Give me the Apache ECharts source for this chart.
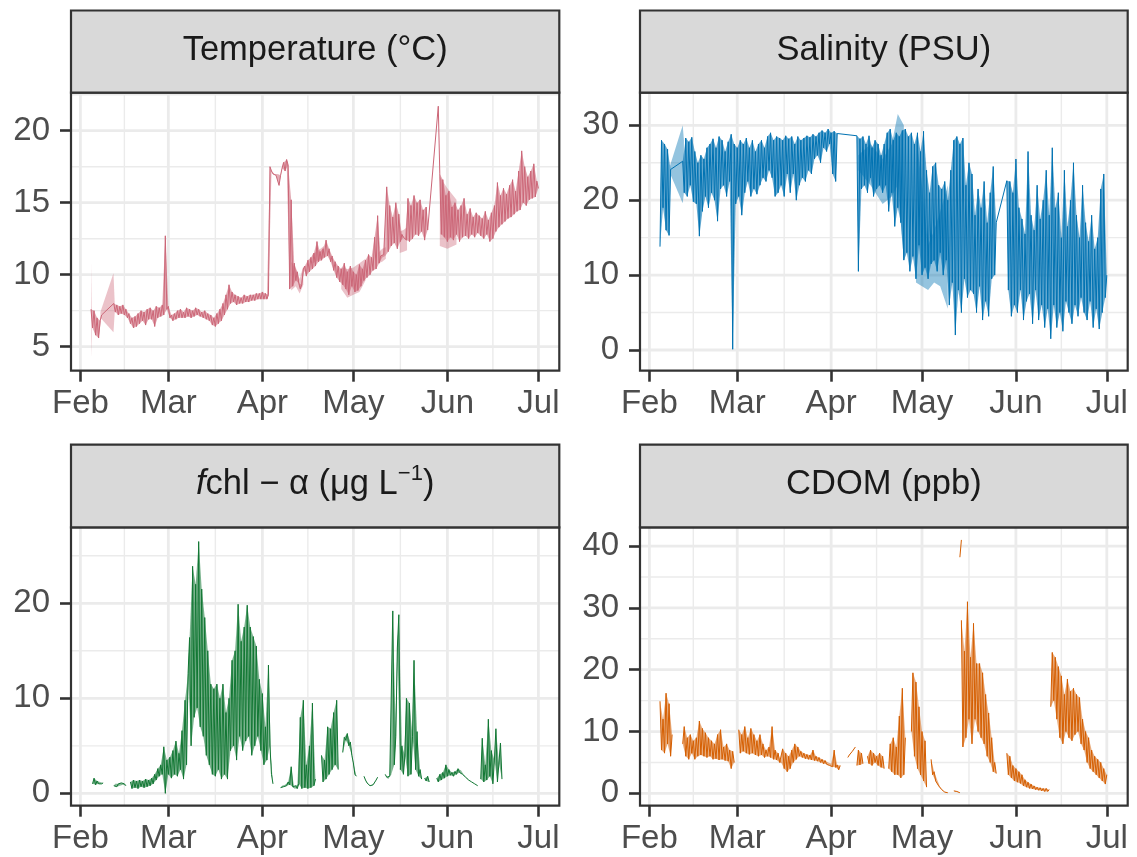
<!DOCTYPE html>
<html>
<head>
<meta charset="utf-8">
<script src="https://cdn.jsdelivr.net/npm/echarts@6/dist/echarts.min.js"></script>
<style>
  html, body { margin: 0; padding: 0; background: #ffffff; }
  #chart { width: 1137px; height: 857px; }
</style>
</head>
<body>
<div id="chart"></div>
<script>
// Time is counted in days since 1 Feb 2020; readings are every half day.
const STEP = 0.5;
const monthDays = [0, 29, 60, 90, 121, 151];
const monthNames = ['Feb', 'Mar', 'Apr', 'May', 'Jun', 'Jul'];
const midMonthDays = [14.5, 44.5, 75, 105.5, 136];

// Each run is [first day, readings]; consecutive runs are joined by a line,
// a null marks a gap in the record.
const temperature = [
  [3.5, [7.6, 6.3, 7.5, 5.8, 7.0, 5.6, 6.8, 7.2]],
  [11, [8.0, 7.4, 7.9, 7.2, 7.8, 7.3, 7.9, 7.2, 7.6, 7.0]],
  [16, [7.3, 6.6, 7.0, 6.3, 7.1, 6.4, 7.3, 6.6]],
  [20, [7.5, 6.8, 7.4, 6.5, 7.6, 6.9, 7.7, 6.9, 7.5, 6.4, 7.8, 7.0, 7.7, 7.1, 7.9, 7.2]],
  [28, [12.7, 7.6]],
  [29, [7.8, 7.0, 7.2, 6.8, 7.3, 6.9, 7.5, 7.0, 7.6, 7.0, 7.4, 7.0]],
  [35, [7.7, 7.1, 7.6, 7.0, 7.5, 7.1, 7.7, 7.2, 7.6, 7.1, 7.4, 7.0, 7.5, 6.9, 7.3, 6.8]],
  [43, [7.2, 6.5, 7.0, 6.4, 7.3, 6.6, 7.6, 6.8, 8.0, 7.2]],
  [48, [8.6, 7.6, 9.3, 8.0, 8.8, 8.1]],
  [51, [8.6, 7.9, 8.5, 8.0, 8.4, 8.0, 8.6, 8.1, 8.5, 8.1, 8.6, 8.2, 8.6, 8.2, 8.7, 8.3, 8.7, 8.3, 8.8, 8.3, 8.7, 8.3]],
  [62, [8.6, 17.5, 17.2, 17.0, 17.0, 16.9, 17.0, 16.2, 16.9, 17.4, 17.8, 17.2, 18.0, 17.6]],
  [69, [9.0, 15.2, 9.2, 10.8, 9.6, 10.2, 9.4, 9.0, 9.3, 10.4]],
  [74, [10.6, 9.9, 11.0, 10.2, 11.2, 10.4, 11.5, 10.6, 12.3, 10.9, 11.6, 11.0, 11.8, 11.2, 12.4, 11.3]],
  [82, [11.8, 10.9, 11.3, 10.3, 10.9, 9.8, 10.6, 9.5, 10.4, 9.3]],
  [87, [10.8, 9.0, 10.2, 8.6, 10.6, 9.2, 10.2, 8.8, 10.0, 8.9, 10.7, 9.2, 10.4, 9.6]],
  [94, [11.0, 9.8, 11.4, 10.0, 11.2, 10.3, 12.6, 10.4, 14.1, 10.8, 11.3, 11.2, 11.4, 11.3, 16.1, 11.6]],
  [102, [14.8, 12.0, 14.0, 12.2, 15.0, 11.8, 14.2, 12.3, 12.8, 12.6, 12.5, 12.4]],
  [108, [15.3, 12.3, 14.8, 12.5, 15.5, 12.8, 15.0, 12.7, 15.2, 13.0, 14.5, 12.4, 14.7, 13.1]],
  [118, [21.7, 17.0, 12.8, 16.6, 12.6, 15.5, 12.3, 15.8, 12.6, 14.7, 12.4, 15.0, 12.8, 14.5, 12.3, 14.8, 12.6, 15.3,
         12.7, 14.2, 12.5, 14.6, 12.8, 14.0, 12.6, 14.3, 12.9, 14.1, 12.7, 13.9, 12.5, 14.4, 12.8, 13.8, 12.3, 14.3, 12.5]],
  [136.5, [14.8, 13.0, 16.4, 13.3, 15.5, 13.5, 16.0, 13.7, 15.6, 13.9, 16.2, 14.0, 16.6, 14.2, 15.8, 14.4, 17.2, 14.5,
           18.6, 15.0, 17.5, 14.8, 16.8, 15.2, 17.2, 15.3, 17.7, 15.4, 16.5, 16.0]]
];

const salinity = [
  [3.5, [13.8, 28.0, 19.0, 27.5, 16.0, 26.8, 15.3, 24.1]],
  [11, [25.2, 21.0, 28.3, 20.5, 27.8, 22.0, 28.4, 19.8, 26.5, 19.5]],
  [16, [25.0, 15.2, 26.0, 18.5, 25.5, 20.5, 27.0, 19.0]],
  [20, [27.5, 21.0, 28.2, 20.0, 27.0, 17.2, 28.5, 21.5, 28.0, 22.0, 26.5, 20.5, 27.8, 22.5, 28.8, 0.1]],
  [28, [27.5, 19.5]],
  [29, [27.0, 20.5, 28.0, 18.0, 27.5, 21.0, 28.3, 22.5, 27.0, 20.5, 28.0, 21.5]],
  [35, [26.5, 20.8, 27.5, 22.0, 28.0, 23.0, 27.0, 22.5, 28.5, 24.0]],
  [40, [29.0, 23.0, 28.0, 20.5, 28.5, 21.0, 28.3, 22.0, 28.0, 20.5, 28.6, 23.5, 28.2, 21.0, 28.5, 23.5, 27.5, 20.0,
        28.5, 22.0, 28.0, 23.0, 28.3, 22.5]],
  [52, [28.6, 24.0, 28.4, 23.5, 28.8, 25.5, 28.5, 26.0, 29.0, 25.0, 29.3, 27.0, 29.0, 26.5, 29.5, 27.5, 29.0, 23.5,
        29.2, 22.5, 28.9]],
  [68.5, [28.6, 10.5, 28.2, 21.5, 28.5, 22.0, 27.5, 21.0, 28.6, 23.0, 27.0, 20.5, 28.0, 21.5, 27.5, 22.0, 26.0, 21.0]],
  [77.5, [27.5, 22.0, 29.0, 18.5, 29.5, 21.0, 28.0, 16.5, 29.0, 19.0, 28.5, 17.0, 29.3]],
  [84, [12.0, 29.5, 13.0, 28.5, 10.5, 29.0, 12.5, 27.5, 9.5, 29.0, 14.0, 26.5]],
  [90, [10.0, 29.2, 11.0, 24.0, 9.5]],
  [92.5, [21.0, 11.5, 24.5, 12.0, 25.0, 10.5, 22.0, 13.0, 21.5, 10.0, 22.5, 12.0, 20.0]],
  [99, [6.0, 24.0, 9.0, 28.0, 2.0, 28.5, 8.0, 27.5, 5.0, 28.3, 9.5, 22.0, 7.0, 25.0, 8.0]],
  [106.5, [23.5, 7.5, 18.0, 5.0, 21.5, 8.5, 19.0, 4.0, 22.5, 6.5, 17.0, 4.5, 21.0, 9.5, 24.5, 10.0, 17.0]],
  [118, [22.6, 8.0, 22.5, 4.5, 21.0, 6.0, 25.5, 5.0, 19.0, 8.0, 17.5, 4.0, 15.5, 6.5, 26.5, 7.5, 18.0, 3.5,
         16.0, 8.0, 22.0, 4.0, 17.5, 6.0, 20.0, 3.0, 24.0, 5.5, 18.0, 1.5, 27.0, 6.0, 19.0, 3.0, 21.0, 5.0]],
  [136, [15.0, 2.5, 24.0, 6.5, 16.5, 5.0, 20.0, 3.5, 25.0, 6.0, 18.0, 4.5, 15.0, 7.0, 22.0, 5.0, 17.0, 4.0,
         14.5, 6.5, 18.0, 3.0, 13.5, 5.5, 15.0, 2.8, 21.5, 5.0, 23.5, 7.0, 10.0]]
];

const chlorophyll = [
  [4, [1.0, 1.6, 0.9, 1.3, 1.0, 1.2, 1.0, 1.1]],
  null,
  [11, [0.8, 1.0, 0.7, 1.0, 0.8, 1.1, 0.9, 1.0, 0.8]],
  null,
  [16.5, [1.2, 0.5, 1.4, 0.6, 1.3, 0.5, 1.4, 0.7, 1.3, 0.6, 1.5, 0.7, 1.4, 0.8, 1.6, 1.0]],
  [24.5, [2.0, 1.4, 2.6, 1.8, 3.0, 2.0, 4.9, 0.0]],
  [28.5, [3.5, 2.0, 3.8, 1.6, 4.5, 2.0, 5.5, 1.8, 4.2, 2.5, 6.6, 1.5, 9.8, 3.0, 12.6]],
  [36, [16.4, 5.0, 23.9, 8.0, 22.0, 9.0, 26.5, 7.0, 21.5, 6.0, 18.5, 4.0, 15.0, 3.0]],
  [43, [11.5, 2.0, 11.0, 1.8, 11.5, 2.5, 10.0, 1.5, 11.5, 2.0, 8.5, 1.5, 10.0, 4.5]],
  [50, [14.0, 5.0, 15.0, 3.5, 19.9, 6.0, 16.0, 4.5, 17.5, 5.5, 19.8, 6.0, 17.5, 4.0, 16.5, 5.0, 15.5, 6.0,
        12.0, 4.5, 10.5, 3.0, 7.0, 3.5, 13.5, 5.0, 2.0, 1.0]],
  null,
  [66, [0.6, 0.8, 0.7, 0.9, 0.8, 1.2, 0.9, 2.8, 0.7, 0.5, 0.8, 0.5, 1.0]],
  [72.5, [8.0, 0.5, 9.8, 0.6, 3.0, 0.5, 5.0, 0.6, 9.5, 0.8, 1.5]],
  null,
  [79.5, [4.0, 1.2, 3.5, 1.5, 7.0, 2.0, 6.8, 2.5, 8.5, 3.0, 9.8, 2.5]],
  null,
  [86.5, [4.3, 5.9, 5.6, 6.3, 5.0, 5.4, 4.0, 3.2, 2.0, 1.8]],
  null,
  [93.5, [1.8, 1.4, 1.1, 0.9, 0.8, 0.8, 0.9, 1.1, 1.4, 1.7]],
  null,
  [100.5, [2.0, 1.7, 1.5, 1.8, 2.0, 19.2, 3.0, 6.0, 15.3, 18.8, 2.5, 5.0, 2.0]],
  [107, [4.0, 10.0, 1.8, 9.5, 2.0, 6.0, 14.0, 2.5, 6.5, 1.8, 2.5, 1.5]],
  null,
  [113.5, [1.6, 1.3, 1.8, 1.2]],
  null,
  [117.5, [1.6, 1.2, 2.0, 1.4, 2.2, 1.6, 3.0, 1.8, 2.5, 1.9, 2.2, 1.8, 2.3, 2.0, 2.6, 2.2, 2.4, 2.0,
           1.9, 1.7, 1.6, 1.4, 1.3, 1.2, 1.1, 1.0, 0.9, 0.8]],
  null,
  [132, [1.5, 5.8, 1.2, 3.0, 1.4, 7.8, 1.8, 4.5, 1.0, 3.5, 6.8, 1.2, 3.2, 5.3, 1.5]]
];

const cdom = [
  [3.5, [14.9, 7.0, 12.0, 6.5, 16.2, 8.0, 14.5, 6.0, 9.5]],
  null,
  [11, [8.0, 10.8, 6.0, 9.0, 5.5, 9.5, 6.5, 8.5, 5.5, 9.0]],
  [16, [6.0, 11.7, 6.2, 10.5, 6.0, 9.8, 5.8, 9.0, 6.0, 8.5, 5.5, 8.0, 5.6, 9.5, 5.4, 10.3, 5.5, 7.5,
        5.3, 8.0, 5.2, 7.0, 4.0, 6.8, 5.0]],
  null,
  [29.5, [10.3, 6.5, 9.5, 6.8, 10.8, 6.5, 9.0, 6.3, 10.5, 6.5, 9.5, 6.2, 8.5, 6.0, 9.5, 6.2, 8.0, 5.8,
          7.0, 6.0, 7.5, 5.8, 10.8, 5.5, 7.0, 5.4, 6.5, 5.0]],
  [43.5, [5.0, 7.2, 4.0, 6.5, 3.5, 6.0, 4.0, 7.0, 5.0, 8.0, 5.5, 7.5]],
  [49.5, [6.0, 6.8, 5.8, 6.5, 5.6, 6.3, 5.5, 6.2, 5.4, 7.0, 5.3, 6.0, 5.2, 5.8, 5.0, 5.5, 4.8, 5.3,
          4.7, 5.0, 4.5, 4.8, 4.3, 7.0, 4.2, 4.6, 3.8, 4.5]],
  null,
  [65.5, [5.8, 6.2, 6.5, 6.8, 7.1, 7.5]],
  null,
  [68.5, [4.5, 7.0, 4.6, 6.5, 4.8]],
  null,
  [72, [6.0, 4.8, 7.0, 4.5, 6.5, 5.0, 6.0, 4.5, 6.5, 4.2, 6.0, 4.0]],
  null,
  [79, [4.0, 8.0, 3.5, 9.0, 3.0, 7.5, 3.0, 12.5, 2.5, 17.0, 3.0, 9.0]],
  null,
  [86.5, [10.0, 19.5, 6.0, 18.0, 4.0, 14.0, 3.0, 10.0, 2.0, 8.5, 1.0]],
  null,
  [93, [5.5, 3.0, 3.5, 2.0, 2.2, 1.2, 1.0, 0.6, 0.4, 0.2, 0.1, 0.1]],
  null,
  [100.5, [0.4, 0.2, 0.3, 0.2, 0.1]],
  null,
  [102.5, [38.2, 41.0]],
  null,
  [103, [28.0, 7.5, 23.0, 9.0, 31.0, 12.0, 22.0, 8.0, 27.5, 12.0, 21.0, 10.0, 21.0, 9.0, 19.5, 8.0, 16.0, 6.0,
         13.0, 5.0, 9.0, 3.5, 5.0, 3.2]],
  null,
  [118, [6.5, 3.0, 6.0, 2.5, 4.5, 2.0, 4.0, 1.8, 3.5, 1.6, 3.0, 1.2, 2.2, 1.0, 1.8, 0.8, 1.5, 0.7,
         1.2, 0.6, 1.0, 0.5, 0.9, 0.4, 0.8, 0.3, 0.8, 0.3, 0.6]],
  null,
  [132.5, [14.0, 22.8, 15.0, 22.0, 12.0, 20.5, 9.0, 19.0, 8.0, 16.0, 10.0, 18.5, 9.0, 16.5, 8.5, 17.0, 9.5, 16.0,
           10.0, 15.5, 8.0, 12.0, 7.0, 10.0, 5.0, 9.0, 4.0, 7.0, 3.5, 6.0, 3.0, 5.5, 2.5, 5.0, 2.0, 4.0, 1.5, 3.0]]
];

// Uncertainty bands: [day, lower, upper]
const temperatureBand = [
  [[3.5, 4.3, 10.8], [3.7, 5.7, 7.7]],
  [[6.6, 7.0, 7.4], [10.9, 6.0, 10.1], [11.3, 7.3, 8.1]],
  [[69.5, 8.9, 10.9], [71, 9.2, 10.4], [72.3, 8.7, 9.7], [73.5, 9.3, 10.6]],
  [[76.5, 10.8, 11.4], [78.5, 11.0, 11.7], [80.3, 11.2, 12.0]],
  [[86, 9.0, 10.5], [88, 8.4, 10.4], [90, 8.6, 10.5], [92, 8.8, 10.8], [94, 9.6, 11.1]],
  [[98.2, 10.8, 11.5], [99.5, 10.9, 11.8], [100.7, 11.1, 11.9]],
  [[105.3, 11.5, 13.0], [106.5, 11.6, 13.1], [107.7, 11.7, 13.3]],
  [[118.5, 12.0, 16.8], [121, 11.8, 16.0], [124, 12.1, 15.2]]
];

const salinityBand = [
  [[6.8, 23.6, 24.6], [11, 19.6, 30.0], [11.4, 21.0, 28.0]],
  [[69, 24.0, 26.0], [73, 22.0, 27.5], [77, 19.5, 25.5], [80, 20.5, 27.5], [82, 22.0, 31.5], [84, 12.0, 30.0]],
  [[88, 9.0, 29.0], [90, 8.5, 22.0], [92, 8.0, 14.0], [94, 9.0, 16.0], [96, 8.5, 18.5], [98.5, 5.5, 22.0]]
];

const temperatureTicks = [5, 10, 15, 20];
const temperatureMinor = [7.5, 12.5, 17.5, 22.5];
const salinityTicks = [0, 10, 20, 30];
const salinityMinor = [5, 15, 25];
const chlorophyllTicks = [0, 10, 20];
const chlorophyllMinor = [5, 15, 25];
const cdomTicks = [0, 10, 20, 30, 40];
const cdomMinor = [5, 15, 25, 35];

// ---- layout ----
const X_MIN = -3.1, X_MAX = 157.9;
const FONT = '"Liberation Sans", Arial, Helvetica, sans-serif';
const COL_LEFT = { left: 71, width: 488.3 };
const COL_RIGHT = { left: 640, width: 487.7 };
const ROW_TOP = { stripTop: 10.5, top: 92.7, height: 278 };
const ROW_BOTTOM = { stripTop: 444.7, top: 527.3, height: 278.4 };

const panels = [
  { label: 'Temperature (°C)', runs: temperature, band: temperatureBand,
    color: '#CC6677', rgb: '204,102,119', fillAlpha: 0.55, bandAlpha: 0.4,
    yMin: 3.33, yMax: 22.64, ticks: temperatureTicks, minor: temperatureMinor, col: COL_LEFT, row: ROW_TOP },
  { label: 'Salinity (PSU)', runs: salinity, band: salinityBand,
    color: '#0072B2', rgb: '0,114,178', fillAlpha: 0.6, bandAlpha: 0.42,
    yMin: -2.76, yMax: 34.35, ticks: salinityTicks, minor: salinityMinor, col: COL_RIGHT, row: ROW_TOP },
  { label: '{it|f}chl − α (μg L{sup|−1})', runs: chlorophyll, band: null,
    color: '#117733', rgb: '17,119,51', fillAlpha: 0.55, bandAlpha: 0,
    yMin: -1.3, yMax: 28.0, ticks: chlorophyllTicks, minor: chlorophyllMinor, col: COL_LEFT, row: ROW_BOTTOM },
  { label: 'CDOM (ppb)', runs: cdom, band: null,
    color: '#D55E00', rgb: '213,94,0', fillAlpha: 0.5, bandAlpha: 0,
    yMin: -2.0, yMax: 43.04, ticks: cdomTicks, minor: cdomMinor, col: COL_RIGHT, row: ROW_BOTTOM }
];

function expandRuns(runs) {
  const pts = [];
  runs.forEach(run => {
    if (run === null) {
      if (pts.length) pts.push([pts[pts.length - 1][0] + 0.01, '-']);
      return;
    }
    const start = run[0];
    run[1].forEach((v, i) => pts.push([start + i * STEP, v]));
  });
  return pts;
}

// triples of consecutive half-day readings; they shade the swing between readings
function swingTriangles(pts) {
  const tris = [];
  for (let i = 1; i < pts.length - 1; i++) {
    const a = pts[i - 1], b = pts[i], c = pts[i + 1];
    if (a[1] === '-' || b[1] === '-' || c[1] === '-') continue;
    if (b[0] - a[0] > STEP + 1e-6 || c[0] - b[0] > STEP + 1e-6) continue;
    tris.push([a, b, c]);
  }
  return tris;
}

const grids = [], xAxes = [], yAxes = [], series = [], graphics = [];

panels.forEach((p, i) => {
  grids.push({
    left: p.col.left, top: p.row.top, width: p.col.width, height: p.row.height,
    containLabel: false, outerBoundsMode: 'none',
    show: true, z: 10, backgroundColor: 'transparent',
    borderColor: '#333333', borderWidth: 2.2
  });

  xAxes.push({
    type: 'value', gridIndex: i, min: X_MIN, max: X_MAX,
    axisLine: { show: false, onZero: false },
    axisTick: { show: true, customValues: monthDays, length: 11,
      lineStyle: { color: '#333333', width: 2.6 } },
    axisLabel: { show: true, customValues: monthDays, margin: 17,
      fontSize: 33, fontFamily: FONT, color: '#4D4D4D',
      formatter: v => monthNames[monthDays.indexOf(Math.round(v))] || '' },
    splitLine: { show: false }
  });

  yAxes.push({
    type: 'value', gridIndex: i, min: p.yMin, max: p.yMax,
    axisLine: { show: false, onZero: false },
    axisTick: { show: true, customValues: p.ticks, length: 11,
      lineStyle: { color: '#333333', width: 2.6 } },
    axisLabel: { show: true, customValues: p.ticks, margin: 21,
      fontSize: 33, fontFamily: FONT, color: '#4D4D4D',
      formatter: v => String(Math.round(v)) },
    splitLine: { show: false }
  });

  // panel grid lines: minor first, majors on top
  const lines = [];
  midMonthDays.forEach(d => lines.push([d, 0, 0]));
  p.minor.forEach(v => lines.push([v, 1, 0]));
  monthDays.forEach(d => lines.push([d, 0, 1]));
  p.ticks.forEach(v => lines.push([v, 1, 1]));
  series.push({
    type: 'custom', xAxisIndex: i, yAxisIndex: i, z: 1, silent: true, clip: true,
    data: lines,
    renderItem: (params, api) => {
      const cs = params.coordSys;
      const v = api.value(0), horizontal = api.value(1), major = api.value(2);
      let shape;
      if (horizontal) {
        const y = api.coord([X_MIN, v])[1];
        shape = { x1: cs.x, y1: y, x2: cs.x + cs.width, y2: y };
      } else {
        const x = api.coord([v, p.yMin])[0];
        shape = { x1: x, y1: cs.y, x2: x, y2: cs.y + cs.height };
      }
      return { type: 'line', shape, style: { stroke: '#EBEBEB', lineWidth: major ? 2.8 : 1.4 } };
    }
  });

  if (p.band) {
    series.push({
      type: 'custom', xAxisIndex: i, yAxisIndex: i, z: 2, silent: true, clip: true,
      data: p.band.map((b, k) => [k, 0]),
      renderItem: (params, api) => {
        const seg = p.band[api.value(0)];
        const upper = seg.map(q => api.coord([q[0], q[2]]));
        const lower = seg.map(q => api.coord([q[0], q[1]])).reverse();
        return { type: 'polygon', shape: { points: upper.concat(lower) },
          style: { fill: 'rgba(' + p.rgb + ',' + p.bandAlpha + ')' } };
      }
    });
  }

  const pts = expandRuns(p.runs);
  const tris = swingTriangles(pts);
  series.push({
    type: 'custom', xAxisIndex: i, yAxisIndex: i, z: 2, silent: true, clip: true,
    data: tris.map((t, k) => [k, 0]),
    renderItem: (params, api) => {
      const t = tris[api.value(0)];
      return { type: 'polygon', shape: { points: t.map(q => api.coord(q)) },
        style: { fill: 'rgba(' + p.rgb + ',' + p.fillAlpha + ')' } };
    }
  });

  series.push({
    type: 'line', xAxisIndex: i, yAxisIndex: i, z: 3, silent: true,
    data: pts,
    showSymbol: false, symbol: 'none', connectNulls: false, clip: true,
    lineStyle: { color: p.color, width: 1, join: 'round' }
  });

  // facet strip
  graphics.push({
    type: 'rect', z: 20,
    shape: { x: p.col.left, y: p.row.stripTop, width: p.col.width, height: p.row.top - p.row.stripTop },
    style: { fill: '#D9D9D9', stroke: '#333333', lineWidth: 2.2 }
  });
  graphics.push({
    type: 'text', z: 21,
    x: p.col.left + p.col.width / 2,
    y: p.row.stripTop + 40,
    style: {
      text: p.label, fontSize: 34.5, fontFamily: FONT, fill: '#1A1A1A',
      align: 'center', verticalAlign: 'middle', lineHeight: 44,
      rich: {
        it: { fontStyle: 'italic', fontSize: 34.5, fontFamily: FONT, fill: '#1A1A1A', lineHeight: 44 },
        sup: { fontSize: 22, fontFamily: FONT, fill: '#1A1A1A', verticalAlign: 'top', lineHeight: 22 }
      }
    }
  });
});

const chart = echarts.init(document.getElementById('chart'), null, { renderer: 'canvas' });
chart.setOption({
  animation: false,
  backgroundColor: '#ffffff',
  grid: grids,
  xAxis: xAxes,
  yAxis: yAxes,
  series: series,
  graphic: graphics
});
</script>
</body>
</html>
